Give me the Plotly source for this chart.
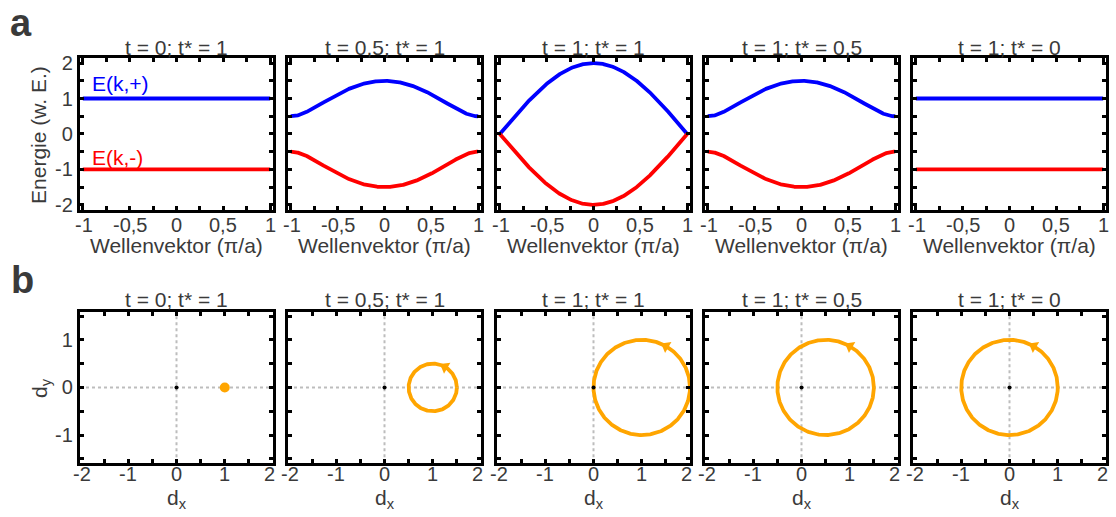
import numpy as np
import plotly.graph_objects as go

# Hopping parameters for the five panels (intra-cell t, inter-cell t*)
t_vals = [0.0, 0.5, 1.0, 1.0, 1.0]
tstar_vals = [1.0, 1.0, 1.0, 0.5, 0.0]
panel_titles = ["t = 0; t* = 1", "t = 0,5; t* = 1", "t = 1; t* = 1",
                "t = 1; t* = 0,5", "t = 1; t* = 0"]

# Tick labels
k_ticks = [-1, -0.5, 0, 0.5, 1]
k_ticktext = ["-1", "-0,5", "0", "0,5", "1"]
e_ticks = [-2, -1, 0, 1, 2]
e_ticktext = ["-2", "-1", "0", "1", "2"]
dx_ticks = [-2, -1, 0, 1, 2]
dx_ticktext = ["-2", "-1", "0", "1", "2"]
dy_ticks = [-1, 0, 1]
dy_ticktext = ["-1", "0", "1"]

W, H = 1116, 517
FONT = "Liberation Sans, Arial, sans-serif"
TXT = "#3a3a3a"
BLUE, RED, ORANGE = "#0000ff", "#ff0000", "#ffa500"
TICK_SIZE = 20
LABEL_SIZE = 21

# panel geometry in pixels
lefts = [80, 288, 497, 705, 913]
pw = 193
top_row = (53, 209)
bot_row = (313, 468)


def xd(px0, px1):
    return [px0 / W, px1 / W]


def yd(py0, py1):
    return [1 - py1 / H, 1 - py0 / H]


def py(pix):
    return 1 - pix / H


k = np.linspace(-1, 1, 401)  # wave vector in units of pi/a
phi = np.linspace(0, 2 * np.pi, 361)

fig = go.Figure()
layout = {}
annotations = []
shapes = []


def axis_common(**kw):
    d = dict(showgrid=False, zeroline=False, showline=True, linewidth=3.4,
             linecolor="black", mirror="allticks", ticks="inside",
             ticklen=4, tickwidth=3, tickcolor="black",
             tickfont=dict(family=FONT, size=TICK_SIZE, color=TXT),
             fixedrange=True)
    d.update(kw)
    return d


def minor(step):
    return dict(ticks="inside", dtick=step, tick0=0, ticklen=4, tickwidth=3,
                tickcolor="black")


def text(s, x, y, xref="paper", yref="paper", size=LABEL_SIZE, color=TXT, xanchor="center",
         angle=0, xshift=0):
    return dict(text=s, x=x, y=y, xref=xref, yref=yref, showarrow=False, xanchor=xanchor,
                yanchor="middle", textangle=angle, xshift=xshift,
                font=dict(family=FONT, size=size, color=color))


for i in range(5):
    t, ts = t_vals[i], tstar_vals[i]
    # top row: band structure E(k, ±)
    xa, ya = f"x{2*i+1}", f"y{2*i+1}"
    xn, yn = f"xaxis{2*i+1}", f"yaxis{2*i+1}"
    e = np.sqrt(t**2 + ts**2 + 2 * t * ts * np.cos(np.pi * k))
    fig.add_trace(go.Scatter(x=k, y=e, mode="lines", line=dict(color=BLUE, width=3.8),
                             xaxis=xa, yaxis=ya, showlegend=False, hoverinfo="skip"))
    fig.add_trace(go.Scatter(x=k, y=-e, mode="lines", line=dict(color=RED, width=3.8),
                             xaxis=xa, yaxis=ya, showlegend=False, hoverinfo="skip"))
    layout[xn] = axis_common(domain=xd(lefts[i], lefts[i] + pw), range=[-1.03, 1.03],
                             anchor=ya, tickvals=k_ticks, showticklabels=False,
                             minor=minor(0.25))
    layout[yn] = axis_common(domain=yd(*top_row), range=[-2.15, 2.15], anchor=xa,
                             tickvals=e_ticks, ticktext=e_ticktext, showticklabels=(i == 0),
                             minor=minor(0.5))
    # wave-vector tick labels, placed on the axis scale just under the frame
    for j, (v, s) in enumerate(zip(k_ticks, k_ticktext)):
        sh = 1 if j == 0 else 0
        annotations.append(text(s, v, py(224.5), xref=xa, size=TICK_SIZE, xshift=sh))

    # bottom row: winding of the d-vector
    xb, yb = f"x{2*i+2}", f"y{2*i+2}"
    xbn, ybn = f"xaxis{2*i+2}", f"yaxis{2*i+2}"
    shapes.append(dict(type="line", xref=xb, yref=f"{yb} domain", x0=0, x1=0, y0=0, y1=1,
                       line=dict(color="#bdbdbd", width=2, dash="dot"), layer="below"))
    shapes.append(dict(type="line", xref=f"{xb} domain", yref=yb, x0=0, x1=1, y0=0, y1=0,
                       line=dict(color="#bdbdbd", width=2, dash="dot"), layer="below"))
    if t == 0:
        fig.add_trace(go.Scatter(x=[ts], y=[0], mode="markers",
                                 marker=dict(color=ORANGE, size=10),
                                 xaxis=xb, yaxis=yb, showlegend=False, hoverinfo="skip"))
    else:
        dx = ts + t * np.cos(phi)
        dy = t * np.sin(phi)
        fig.add_trace(go.Scatter(x=dx, y=dy, mode="lines", line=dict(color=ORANGE, width=3.8),
                                 xaxis=xb, yaxis=yb, showlegend=False, hoverinfo="skip"))
        a = np.pi / 3  # arrowhead marks the direction of increasing k
        fig.add_trace(go.Scatter(x=[ts + t * np.cos(a)], y=[t * np.sin(a)], mode="markers",
                                 marker=dict(color=ORANGE, size=11, symbol="triangle-up",
                                             angle=-60),
                                 xaxis=xb, yaxis=yb, showlegend=False, hoverinfo="skip"))
    fig.add_trace(go.Scatter(x=[0], y=[0], mode="markers", marker=dict(color="black", size=4),
                             xaxis=xb, yaxis=yb, showlegend=False, hoverinfo="skip"))
    layout[xbn] = axis_common(domain=xd(lefts[i], lefts[i] + pw), range=[-2, 2], anchor=yb,
                              tickvals=dx_ticks, showticklabels=False, minor=minor(0.5))
    layout[ybn] = axis_common(domain=yd(*bot_row), range=[-1.59, 1.59], anchor=xb,
                              tickvals=dy_ticks, ticktext=dy_ticktext, showticklabels=(i == 0),
                              minor=minor(0.5))
    for j, (v, s) in enumerate(zip(dx_ticks, dx_ticktext)):
        sh = 2 if j == 0 else (-4 if j == len(dx_ticks) - 1 else 0)
        annotations.append(text(s, v, py(479), xref=xb, size=TICK_SIZE, xshift=sh))

    cx = (lefts[i] + pw / 2) / W
    annotations.append(text(panel_titles[i], cx, py(42.5)))
    annotations.append(text(panel_titles[i], cx, py(300.5)))
    annotations.append(text("Wellenvektor (π/a)", cx, py(245)))
    annotations.append(text("d<sub>x</sub>", cx, py(505)))

# band labels
annotations.append(text("E(k,+)", -0.92, 1.42, xref="x1", yref="y1", color=BLUE,
                        xanchor="left"))
annotations.append(text("E(k,-)", -0.92, -0.67, xref="x1", yref="y1", color=RED,
                        xanchor="left"))
# y-axis titles
annotations.append(text("Energie (w. E.)", 39 / W, py(132), angle=-90))
annotations.append(text("d<sub>y</sub>", 41 / W, py(391), angle=-90))
# panel letters
annotations.append(text("<b>a</b>", 21 / W, py(17), size=38))
annotations.append(text("<b>b</b>", 22 / W, py(280), size=38))

fig.update_layout(**layout)
fig.update_layout(width=W, height=H, margin=dict(l=0, r=0, t=0, b=0),
                  paper_bgcolor="white", plot_bgcolor="white",
                  annotations=annotations, shapes=shapes, showlegend=False)

fig.write_html("out.html", config={"displayModeBar": False})
